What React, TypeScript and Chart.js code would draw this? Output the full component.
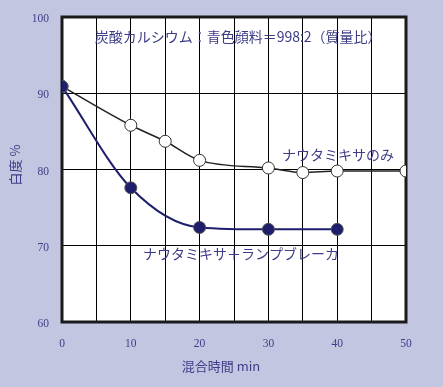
import React, { useEffect, useRef } from "react";
import { Chart, registerables } from "chart.js";

Chart.register(...registerables);

const mixTimes = [0, 10, 15, 20, 30, 35, 40, 50];
const mixerOnly = [90.9, 85.8, 83.7, 81.2, 80.2, 79.6, 79.8, 79.8];
const breakerTimes = [0, 10, 20, 30, 40];
const mixerBreaker = [90.9, 77.6, 72.4, 72.15, 72.15];

const xTitle = "混合時間 min";
const yTitle = "白度 %";
const topNote = "炭酸カルシウム：青色顔料＝998:2（質量比）";
const labelOnly = "ナウタミキサのみ";
const labelBreaker = "ナウタミキサ＋ランプブレーカ";

const BG = "rgb(195,198,224)";
const TEXT = "#3d3d88";
const NAVY = "#1e1e6c";
const JP = "'Noto Sans CJK JP', 'Noto Sans', sans-serif";
const NUM = "'Liberation Serif', 'DejaVu Serif', serif";

const decorPlugin = {
  id: "decor",
  beforeDraw(chart: any) {
    const { ctx, width, height, chartArea } = chart;
    ctx.save();
    ctx.fillStyle = BG;
    ctx.fillRect(0, 0, width, height);
    ctx.fillStyle = "#ffffff";
    ctx.fillRect(chartArea.left, chartArea.top, chartArea.right - chartArea.left, chartArea.bottom - chartArea.top);
    ctx.restore();
  },
  beforeDatasetsDraw(chart: any) {
    const { ctx, chartArea, scales } = chart;
    ctx.save();
    ctx.strokeStyle = "#1a1a1a";
    ctx.lineWidth = 3;
    ctx.strokeRect(chartArea.left, chartArea.top, chartArea.right - chartArea.left, chartArea.bottom - chartArea.top);
    ctx.fillStyle = TEXT;
    ctx.textAlign = "center";
    ctx.textBaseline = "middle";
    ctx.font = `14px ${JP}`;
    const x = scales.x, y = scales.y;
    ctx.fillText(topNote, x.getPixelForValue(25.6), y.getPixelForValue(97.4));
    ctx.fillText(labelOnly, x.getPixelForValue(40.1), y.getPixelForValue(81.9));
    ctx.fillText(labelBreaker, x.getPixelForValue(26), y.getPixelForValue(69));
    ctx.restore();
  },
  afterDraw(chart: any) {
    const { ctx } = chart;
    ctx.save();
    ctx.fillStyle = TEXT;
    ctx.textAlign = "center";
    ctx.textBaseline = "middle";
    ctx.font = `13px ${JP}`;
    ctx.fillText(xTitle, 221, 366);
    ctx.translate(15, 165);
    ctx.rotate(-Math.PI / 2);
    ctx.fillText(yTitle, 0, 0);
    ctx.restore();
  },
};

export default function App() {
  const ref = useRef<HTMLCanvasElement>(null);
  useEffect(() => {
    document.body.style.margin = "0";
    const chart = new Chart(ref.current!, {
      type: "line",
      data: {
        datasets: [
          {
            label: labelBreaker,
            data: breakerTimes.map((t, i) => ({ x: t, y: mixerBreaker[i] })),
            borderColor: NAVY,
            borderWidth: 2,
            backgroundColor: NAVY,
            pointBackgroundColor: NAVY,
            pointBorderColor: "#555555",
            pointBorderWidth: 1,
            pointRadius: 6,
            cubicInterpolationMode: "monotone",
          },
          {
            label: labelOnly,
            data: mixTimes.map((t, i) => ({ x: t, y: mixerOnly[i] })),
            borderColor: "#222222",
            borderWidth: 1.5,
            backgroundColor: "#ffffff",
            pointBackgroundColor: "#ffffff",
            pointBorderColor: "#333333",
            pointBorderWidth: 1,
            pointRadius: 6,
            cubicInterpolationMode: "monotone",
          },
        ],
      },
      options: {
        responsive: false,
        animation: false,
        layout: { padding: { top: 17, right: 37, left: 0, bottom: 0 } },
        plugins: { legend: { display: false }, tooltip: { enabled: false } },
        scales: {
          x: {
            type: "linear",
            min: 0,
            max: 50,
            afterFit: (s: any) => { s.height = 65; s.paddingLeft = 0; s.paddingRight = 0; },
            border: { display: false },
            grid: { color: "#000000", lineWidth: 1, drawTicks: false },
            ticks: {
              stepSize: 5,
              autoSkip: false,
              maxRotation: 0,
              padding: 15,
              color: TEXT,
              font: { family: NUM, size: 11.5 },
              callback: (v: any) => (Number(v) % 10 === 0 ? String(v) : ""),
            },
          },
          y: {
            type: "linear",
            min: 60,
            max: 100,
            afterFit: (s: any) => { s.width = 62; s.paddingTop = 0; s.paddingBottom = 0; },
            border: { display: false },
            grid: { color: "#000000", lineWidth: 1, drawTicks: false },
            ticks: {
              stepSize: 10,
              padding: 13,
              labelOffset: 2,
              color: TEXT,
              font: { family: NUM, size: 11.5 },
            },
          },
        },
      },
      plugins: [decorPlugin],
    });
    return () => chart.destroy();
  }, []);
  return (
    <div style={{ position: "absolute", left: 0, top: 0, width: 443, height: 387 }}>
      <canvas ref={ref} width={443} height={387} />
    </div>
  );
}
